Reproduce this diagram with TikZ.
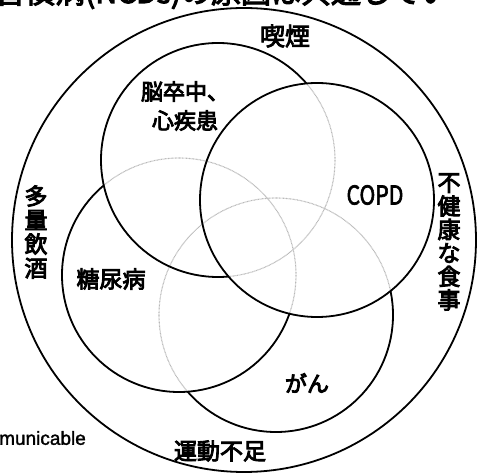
\documentclass[tikz,border=0pt]{standalone}
\usepackage{fontspec}
\newfontfamily\jp{Noto Sans CJK JP}
\newfontfamily\lat{Liberation Sans}
\newcommand\heavy[2][0.9]{\special{pdf:literal direct 2 Tr #1 w}#2\special{pdf:literal direct 0 Tr}}
\begin{document}
\begin{tikzpicture}[x=1pt,y=-1pt,
  solidline/.style={line width=1.8pt, black},
  dotline/.style={line width=1.1pt, gray!55, dash pattern=on 0.8pt off 0.6pt},
  lab/.style={font=\jp\fontsize{23}{24}\selectfont, inner sep=0pt, align=center},
]
\useasboundingbox (0,0) rectangle (477,473);
\clip (0,0) rectangle (477,473);
\coordinate (O) at (244,240);
\coordinate (A) at (218,160);
\coordinate (B) at (317,200);
\coordinate (C) at (179,275);
\coordinate (D) at (276,315);
\def\R{117}
% outer circle
\draw[solidline] (O) circle[radius=232];
% hidden (dotted) parts
\foreach \p in {A,C,D} \draw[dotline] (\p) circle[radius=\R];
% top circle B
\draw[solidline] (B) circle[radius=\R];
\begin{scope}[even odd rule]
  \clip (-50,-50) rectangle (530,530) (B) circle[radius=\R];
  \draw[solidline] (A) circle[radius=\R];
  \begin{scope}[even odd rule]
    \clip (-50,-50) rectangle (530,530) (A) circle[radius=\R];
    \draw[solidline] (C) circle[radius=\R];
    \begin{scope}[even odd rule]
      \clip (-50,-50) rectangle (530,530) (C) circle[radius=\R];
      \draw[solidline] (D) circle[radius=\R];
    \end{scope}
  \end{scope}
\end{scope}
% title (cut off at top)
\node[font=\jp\fontsize{30}{30}\selectfont, anchor=base west, inner sep=0pt] (title) at (-5,3) {\heavy[1.1]{習慣病(NCDs)の原因は共通してい}};
% labels
\node[lab, font=\jp\fontsize{25}{26}\selectfont] (smoke) at (285,36) {\heavy{喫煙}};
\node[lab, font=\jp\fontsize{22}{29}\selectfont] (stroke) at (185,106) {\heavy{脳卒中、\\心疾患}};
\node[lab, font=\jp\fontsize{26}{26}\selectfont, xscale=0.82] (copd) at (375,195) {\heavy[0.7]{COPD}};
\node[lab] (dm) at (111,279) {\heavy{糖尿病}};
\node[lab, font=\jp\fontsize{22}{24}\selectfont] (cancer) at (307,383) {\heavy{がん}};
\node[lab, font=\jp\fontsize{23}{24}\selectfont] (alcohol) at (36,232) {\heavy{多\\量\\飲\\酒}};
\node[lab, font=\jp\fontsize{23}{23.5}\selectfont] (diet) at (449,242) {\heavy{不\\健\\康\\な\\食\\事}};
\node[lab] (exercise) at (220,451) {\heavy{運動不足}};
\node[font=\lat\fontsize{19}{20}\selectfont, inner sep=0pt, anchor=west] (ncd) at (-1,438) {\heavy[0.3]{municable}};
\end{tikzpicture}
\end{document}
